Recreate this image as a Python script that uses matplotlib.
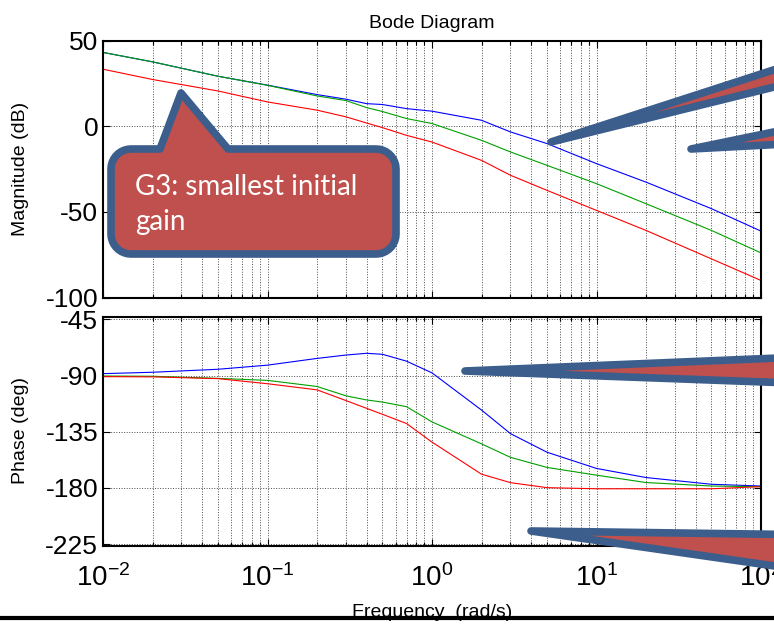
import numpy as np
import matplotlib
matplotlib.use("Agg")
import matplotlib.pyplot as plt
from matplotlib.patches import Polygon
from matplotlib.lines import Line2D

plt.rcParams['font.family'] = ['Liberation Sans', 'DejaVu Sans']
plt.rcParams['mathtext.fontset'] = 'custom'
plt.rcParams['mathtext.rm'] = 'Liberation Sans'
plt.rcParams['axes.unicode_minus'] = False

# data (rad/s, dB, deg)
freq = [0.01, 0.02, 0.05, 0.1, 0.2, 0.3, 0.4, 0.5, 0.7, 1, 2, 3, 5, 10, 20, 50, 100]
mag_blue = [43.1, 37.6, 29.2, 24.0, 18.5, 15.8, 13.2, 12.7, 10.3, 8.8, 3.5, -3.3, -10.1, -21.8, -32.6, -48.1, -61.2]
mag_green = [43.1, 37.6, 29.2, 23.9, 17.7, 15.0, 10.9, 8.6, 4.5, 1.6, -8.2, -15.0, -22.8, -33.5, -45.2, -60.8, -73.9]
mag_red = [33.3, 27.3, 20.6, 14.2, 9.4, 5.5, 1.9, -0.8, -5.3, -9.2, -19.9, -28.6, -37.4, -49.1, -60.8, -77.4, -90.0]
phase_blue = [-88.4, -87.3, -84.9, -81.6, -76.2, -73.5, -72.1, -72.9, -78.4, -87.8, -117.6, -136.5, -151.4, -164.4, -171.7, -177.1, -178.5]
phase_green = [-90.3, -90.5, -92.2, -93.8, -98.7, -106.2, -109.5, -111.2, -114.9, -127.1, -144.7, -155.5, -163.6, -169.8, -175.7, -178.5, -179.0]
phase_red = [-90.8, -91.0, -92.4, -96.5, -101.4, -110.0, -116.2, -121.0, -128.4, -143.3, -169.0, -175.8, -179.8, -180.7, -180.7, -180.7, -179.0]

mag_ticks = [-100, -50, 0, 50]
phase_ticks = [-225, -180, -135, -90, -45]

W, H = 774, 624
fig = plt.figure(figsize=(W / 100, H / 100), dpi=100)


def box(l, t, r, b):
    return [l / W, 1 - b / H, (r - l) / W, (b - t) / H]


ax1 = fig.add_axes(box(103, 40.6, 761, 297.6))
ax2 = fig.add_axes(box(103, 317, 761, 545.9))

ax1.plot(freq, mag_blue, color='#0000FF', lw=0.8)
ax1.plot(freq, mag_green, color='#00A000', lw=0.8)
ax1.plot(freq, mag_red, color='#FF0000', lw=0.8)
ax2.plot(freq, phase_blue, color='#0000FF', lw=0.8)
ax2.plot(freq, phase_green, color='#00A000', lw=0.8)
ax2.plot(freq, phase_red, color='#FF0000', lw=0.8)

ax1.set_ylim(-100, 50)
ax1.set_yticks(mag_ticks)
ax2.set_ylim(-226.5, -43)
ax2.set_yticks(phase_ticks)

for ax in (ax1, ax2):
    ax.set_xscale('log')
    ax.set_xlim(0.01, 100)
    ax.grid(True, which='major', color='0.3', ls=':', lw=0.7)
    ax.xaxis.grid(True, which='minor', color='0.3', ls=':', lw=0.7)
    ax.tick_params(which='both', direction='in', top=True, right=True, width=0.8)
    ax.tick_params(which='major', length=5)
    ax.tick_params(which='minor', length=3)
    ax.tick_params(axis='y', labelsize=19, pad=3.5)
    ax.tick_params(axis='x', labelsize=20, pad=13)
    for s in ax.spines.values():
        s.set_linewidth(1.5)

ax1.tick_params(labelbottom=False)
ax1.set_title('Bode Diagram', fontsize=14, pad=9)

fig.text(21 / W, 1 - 169 / H, 'Magnitude (dB)', rotation=90, fontsize=14,
         ha='center', va='center')
fig.text(21 / W, 1 - 431 / H, 'Phase (deg)', rotation=90, fontsize=14,
         ha='center', va='center')
fig.text(432 / W, 1 - 617 / H, 'Frequency  (rad/s)', fontsize=14,
         ha='center', va='baseline')

# overlay for the callout shapes, in pixel coordinates
ov = fig.add_axes([0, 0, 1, 1], zorder=10)
ov.set_xlim(0, W)
ov.set_ylim(H, 0)
ov.axis('off')

fill = '#C0504D'
edge = '#3B5E8C'

# rounded box with pointer
x0, y0, x1, y1, r = 111, 149, 396, 254, 20
t = np.linspace(0, np.pi / 2, 10)
pts = [(x0 + r, y0), (160, y0), (181, 93), (228, y0), (x1 - r, y0)]
pts += [(x1 - r + r * np.sin(a), y0 + r - r * np.cos(a)) for a in t]
pts += [(x1 - r + r * np.cos(a), y1 - r + r * np.sin(a)) for a in t]
pts += [(x0 + r - r * np.sin(a), y1 - r + r * np.cos(a)) for a in t]
pts += [(x0 + r - r * np.cos(a), y0 + r - r * np.sin(a)) for a in t]
ov.add_patch(Polygon(pts, closed=True, fc=fill, ec=edge, lw=5.5, joinstyle='round'))
ov.text(135, 195, 'G3: smallest initial', family=['Lato', 'DejaVu Sans'],
        fontsize=20, color='white', va='baseline')
ov.text(135, 230, 'gain', family=['Lato', 'DejaVu Sans'],
        fontsize=20, color='white', va='baseline')

# wedge callouts running off the right edge
wedges = [
    [(551, 142), (900, 29), (900, 56)],
    [(691, 149), (900, 106), (900, 138)],
    [(465, 371), (900, 353), (900, 387)],
    [(531, 531), (900, 536), (900, 584)],
]
for w in wedges:
    ov.add_patch(Polygon(w, closed=True, fc=fill, ec=edge, lw=5.5, joinstyle='round'))

# black rule at the bottom
fig.add_artist(Line2D([0, 1], [1 - 618 / H, 1 - 618 / H], color='black', lw=3))

fig.savefig('out.png', dpi=100)
